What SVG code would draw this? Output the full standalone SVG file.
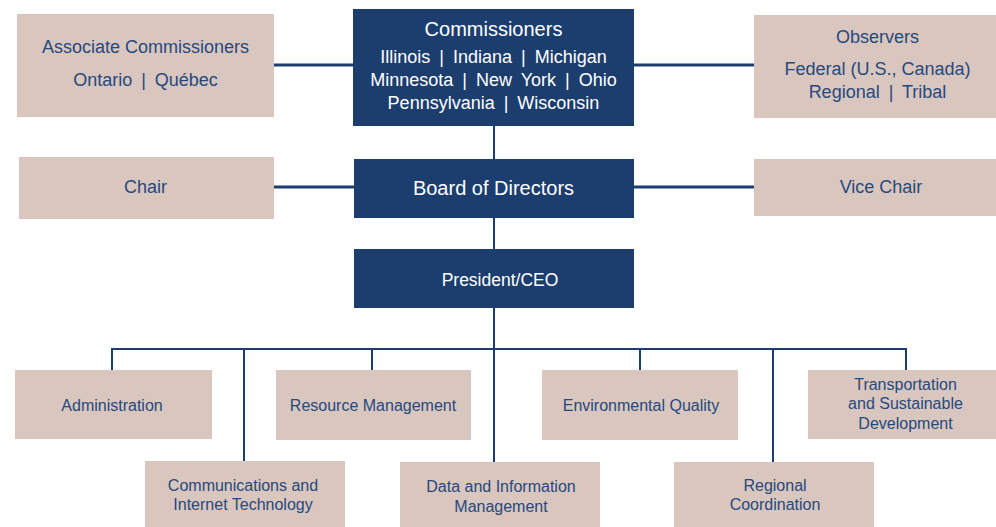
<svg xmlns="http://www.w3.org/2000/svg" width="996" height="527" viewBox="0 0 996 527">
<style>
.dark{fill:#1c3e6f}
.light{fill:#d8c6bf}
.tw{fill:#ffffff;font-family:"Liberation Sans",Arial,sans-serif;text-anchor:middle}
.tb{fill:#27497c;font-family:"Liberation Sans",Arial,sans-serif;text-anchor:middle}
.ws{word-spacing:4px}
.c{stroke:#1c3e6f;fill:none}
</style>
<rect width="996" height="527" fill="#ffffff"/>
<g id="connectors">
<path class="c" stroke-width="3" d="M274 65H353M634 65H754M274 187H354M634 187H754"/>
<path class="c" stroke-width="2" d="M494 126V159M494 218V249M494 308V462M112 349H906M112 348V370M244 348V461M372 348V370M640 348V370M773 348V462M906 348V370"/>
</g>
<g id="associate">
<rect class="light" x="17" y="14" width="257" height="103"/>
<text class="tb" x="145.5" y="53" font-size="18">Associate Commissioners</text>
<text class="tb ws" x="145.5" y="86" font-size="18">Ontario | Québec</text>
</g>
<g id="commissioners">
<rect class="dark" x="353" y="9" width="281" height="117"/>
<text class="tw" x="493.5" y="36" font-size="20">Commissioners</text>
<text class="tw ws" x="493.5" y="63" font-size="18">Illinois | Indiana | Michigan</text>
<text class="tw ws" x="493.5" y="86" font-size="18">Minnesota | New York | Ohio</text>
<text class="tw ws" x="493.5" y="109" font-size="18">Pennsylvania | Wisconsin</text>
</g>
<g id="observers">
<rect class="light" x="754" y="15" width="246" height="103"/>
<text class="tb" x="877.5" y="43" font-size="18">Observers</text>
<text class="tb" x="877.5" y="75" font-size="18">Federal (U.S., Canada)</text>
<text class="tb ws" x="877.5" y="98" font-size="18">Regional | Tribal</text>
</g>
<g id="chair">
<rect class="light" x="19" y="157" width="255" height="62"/>
<text class="tb" x="145.5" y="193" font-size="18">Chair</text>
</g>
<g id="board">
<rect class="dark" x="354" y="159" width="280" height="59"/>
<text class="tw" x="493.5" y="195" font-size="20">Board of Directors</text>
</g>
<g id="vicechair">
<rect class="light" x="754" y="159" width="246" height="57"/>
<text class="tb" x="881" y="193" font-size="18">Vice Chair</text>
</g>
<g id="president">
<rect class="dark" x="354" y="249" width="280" height="59"/>
<text class="tw" x="500" y="286" font-size="17.5">President/CEO</text>
</g>
<g id="administration">
<rect class="light" x="15" y="370" width="197" height="69"/>
<text class="tb" x="112" y="411" font-size="16">Administration</text>
</g>
<g id="comm-it">
<rect class="light" x="145" y="461" width="200" height="66"/>
<text class="tb" x="243" y="491" font-size="16">Communications and</text>
<text class="tb" x="243" y="510" font-size="16">Internet Technology</text>
</g>
<g id="resource">
<rect class="light" x="276" y="370" width="195" height="70"/>
<text class="tb" x="373" y="411" font-size="16">Resource Management</text>
</g>
<g id="data">
<rect class="light" x="400" y="462" width="200" height="65"/>
<text class="tb" x="501" y="492" font-size="16">Data and Information</text>
<text class="tb" x="501" y="512" font-size="16">Management</text>
</g>
<g id="environmental">
<rect class="light" x="542" y="370" width="196" height="70"/>
<text class="tb" x="641" y="411" font-size="16">Environmental Quality</text>
</g>
<g id="regional">
<rect class="light" x="674" y="462" width="200" height="65"/>
<text class="tb" x="775" y="491" font-size="16">Regional</text>
<text class="tb" x="775" y="510" font-size="16">Coordination</text>
</g>
<g id="transportation">
<rect class="light" x="808" y="370" width="192" height="69"/>
<text class="tb" x="905.5" y="390" font-size="16">Transportation</text>
<text class="tb" x="905.5" y="409" font-size="16">and Sustainable</text>
<text class="tb" x="905.5" y="429" font-size="16">Development</text>
</g>
</svg>
